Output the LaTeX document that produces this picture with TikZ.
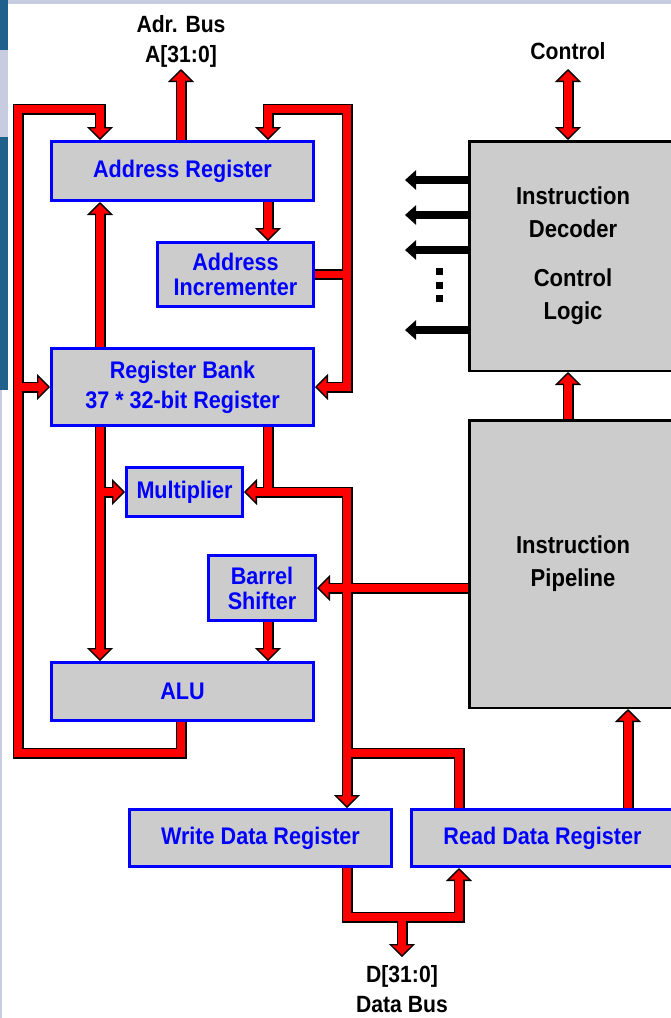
\documentclass[tikz,border=0pt]{standalone}
\usepackage{fontspec}
\usepackage{tikz}
\usetikzlibrary{arrows.meta,positioning}
\newfontfamily\boxfont{Liberation Sans}[FakeStretch=0.9]
\definecolor{boxgrey}{RGB}{204,204,204}
\definecolor{slideteal}{RGB}{31,96,140}
\definecolor{slidelav}{RGB}{200,204,224}
\pgfdeclarelayer{slide}
\pgfdeclarelayer{busedge}
\pgfsetlayers{slide,busedge,main}
\newcommand{\drawBus}[2]{
    \begin{pgfonlayer}{busedge}\draw[bus edge, bus edge #1] #2;\end{pgfonlayer}
    \draw[bus core, bus core #1] #2;
}

\begin{document}
\begin{tikzpicture}[x=1pt,y=-1pt,
    Bus/.tip={Triangle[width=26pt,length=13pt,color=black,fill=red,line width=1.3pt]},
    bus edge/.style={draw=black,line width=11pt},
    bus core/.style={draw=red,line width=7.5pt},
    bus edge e/.style={-Bus}, bus core e/.style={shorten >=8pt},
    bus edge s/.style={Bus-}, bus core s/.style={shorten <=8pt},
    bus edge se/.style={Bus-Bus}, bus core se/.style={shorten <=8pt,shorten >=8pt},
    bus edge n/.style={}, bus core n/.style={},
    regbox/.style={draw=blue,line width=3pt,fill=boxgrey,text=blue,inner sep=0pt,align=center,
        font=\boxfont\bfseries\fontsize{24}{25}\selectfont},
    ctlbox/.style={draw=black,line width=2.5pt,fill=boxgrey,inner sep=0pt,align=center,
        font=\boxfont\bfseries\fontsize{24.5}{33}\selectfont},
    buslabel/.style={inner sep=0pt,align=center,font=\boxfont\bfseries\fontsize{23.5}{30}\selectfont},
    ctlarrow/.style={line width=7.5pt,-{Triangle[width=19pt,length=11pt]}}]
    \useasboundingbox (0,0) rectangle (671,1018);
    % slide frame left over from the screenshot
    \begin{pgfonlayer}{slide}
        \fill[white] (0,0) rectangle (671,1018);
        \fill[slidelav] (0,0) rectangle (671,4);
        \fill[slideteal] (0,0) rectangle (8,50);
        \fill[slidelav] (0,50) rectangle (8,137);
        \fill[slideteal] (0,137) rectangle (8,390);
        \fill[slidelav] (0,390) rectangle (2,1018);
    \end{pgfonlayer}

    % bus columns and corners
    \coordinate (colA) at (100,0);
    \coordinate (colB) at (268,0);
    \coordinate (colR) at (347,0);
    \coordinate (colD) at (459,0);
    \coordinate (colC) at (568,0);
    \coordinate (colP) at (628,0);
    \coordinate (adrtop) at (181,69);
    \coordinate (ctltop) at (568,69);
    \coordinate (looptl) at (18,109);
    \coordinate (loopbl) at (18,753);
    \coordinate (righttop) at (347,109);
    \coordinate (datarow) at (402,917);
    \coordinate (datastem) at (402,957);

    % blocks
    \node[regbox,minimum width=262pt,minimum height=59pt] (addrreg) at (182.5,171) {Address Register};
    \node[regbox,minimum width=156pt,minimum height=64pt] (addrinc) at (235.5,274.5) {Address\\Incrementer};
    \node[regbox,minimum width=262pt,minimum height=77pt] (regbank) at (182.5,387) {Register Bank\\[5pt]37 * 32-bit Register};
    \node[regbox,minimum width=116pt,minimum height=49pt] (mult) at (184.5,492) {Multiplier};
    \node[regbox,minimum width=107pt,minimum height=65pt] (barrel) at (262,588) {Barrel\\Shifter};
    \node[regbox,minimum width=262pt,minimum height=58pt] (alu) at (182.5,691.5) {ALU};
    \node[regbox,minimum width=262pt,minimum height=57pt] (wdr) at (260.5,838) {Write Data Register};
    \node[regbox,minimum width=262pt,minimum height=57pt] (rdr) at (542.5,838) {Read Data Register};
    \node[ctlbox,minimum width=207.5pt,minimum height=229.5pt] (decoder) at (573,256) {Instruction\\Decoder\\[16pt]Control\\Logic};
    \node[ctlbox,minimum width=207.5pt,minimum height=287.5pt] (pipeline) at (573,564) {Instruction\\Pipeline};

    % bus labels
    \node[buslabel,above=1pt of adrtop] (adrlabel) {Adr. Bus\\A[31:0]};
    \node[buslabel,above=9pt of ctltop] (ctllabel) {Control};
    \node[buslabel,below=8pt of datastem] (datalabel) {D[31:0]\\Data Bus};

    % address side
    \drawBus{e}{(adrtop |- addrreg.north) -- (adrtop)}
    \drawBus{e}{(alu.south -| adrtop) |- (loopbl) -- (looptl) -| (colA |- addrreg.north)}
    \drawBus{e}{(looptl |- regbank.west) -- (regbank.west)}
    \drawBus{e}{(colB |- addrreg.south) -- (colB |- addrinc.north)}
    \drawBus{e}{(colA |- regbank.north) -- (colA |- addrreg.south)}
    \drawBus{se}{(colB |- addrreg.north) |- (righttop) -- (righttop |- regbank.east) -- (regbank.east)}
    \drawBus{n}{(addrinc.east) -- (addrinc.east -| righttop)}

    % data path
    \drawBus{e}{(colA |- regbank.south) -- (colA |- alu.north)}
    \drawBus{e}{(colA |- mult.west) -- (mult.west)}
    \drawBus{n}{(colB |- regbank.south) -- (colB |- mult.east)}
    \drawBus{se}{(mult.east) -- (mult.east -| colR) -- (colR |- wdr.north)}
    \drawBus{e}{(pipeline.west |- barrel.east) -- (barrel.east)}
    \drawBus{e}{(colB |- barrel.south) -- (colB |- alu.north)}
    \drawBus{n}{(colD |- rdr.north) |- (loopbl -| colR)}

    % control side
    \drawBus{e}{(colC |- pipeline.north) -- (colC |- decoder.south)}
    \drawBus{se}{(colC |- decoder.north) -- (ctltop)}
    \drawBus{e}{(colP |- rdr.north) -- (colP |- pipeline.south)}

    % data bus
    \drawBus{s}{(colD |- rdr.south) |- (datarow) -| (colR |- wdr.south)}
    \drawBus{e}{(datarow) -- (datastem)}

    % decoder outputs
    \foreach \y in {180,215,250,330}
        \draw[ctlarrow] (decoder.west |- 0,\y) -- ++(-63,0);
    \foreach \y in {271.5,285,298.5}
        \fill (436,\y-3.5) rectangle ++(7,7);
\end{tikzpicture}
\end{document}
